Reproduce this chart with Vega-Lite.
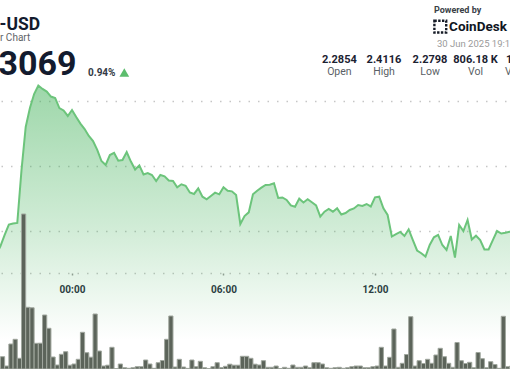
{
  "$schema": "https://vega.github.io/schema/vega-lite/v6.json",
  "width": 510,
  "height": 369,
  "padding": 0,
  "autosize": {"type": "none"},
  "background": "white",
  "config": {"view": {"stroke": null}, "font": "Roboto"},
  "datasets": {
    "xrp": [
      {"t": "2025-06-29T21:00Z", "p": 2.2819, "v": 4500},
      {"t": "2025-06-29T21:10Z", "p": 2.2887, "v": 6150},
      {"t": "2025-06-29T21:20Z", "p": 2.2972, "v": 1500},
      {"t": "2025-06-29T21:30Z", "p": 2.3052, "v": 12500},
      {"t": "2025-06-29T21:40Z", "p": 2.3060, "v": 14850},
      {"t": "2025-06-29T21:50Z", "p": 2.3064, "v": 5350},
      {"t": "2025-06-29T22:00Z", "p": 2.3469, "v": 77500},
      {"t": "2025-06-29T22:10Z", "p": 2.3799, "v": 30850},
      {"t": "2025-06-29T22:20Z", "p": 2.3944, "v": 30600},
      {"t": "2025-06-29T22:30Z", "p": 2.4051, "v": 12850},
      {"t": "2025-06-29T22:40Z", "p": 2.4116, "v": 12900},
      {"t": "2025-06-29T22:50Z", "p": 2.4090, "v": 27000},
      {"t": "2025-06-29T23:00Z", "p": 2.4070, "v": 20350},
      {"t": "2025-06-29T23:10Z", "p": 2.4032, "v": 6000},
      {"t": "2025-06-29T23:20Z", "p": 2.4021, "v": 2000},
      {"t": "2025-06-29T23:30Z", "p": 2.3944, "v": 7350},
      {"t": "2025-06-29T23:40Z", "p": 2.3925, "v": 8650},
      {"t": "2025-06-29T23:50Z", "p": 2.3883, "v": 1900},
      {"t": "2025-06-30T00:00Z", "p": 2.3929, "v": 2500},
      {"t": "2025-06-30T00:10Z", "p": 2.3875, "v": 4850},
      {"t": "2025-06-30T00:20Z", "p": 2.3825, "v": 18350},
      {"t": "2025-06-30T00:30Z", "p": 2.3783, "v": 8150},
      {"t": "2025-06-30T00:40Z", "p": 2.3730, "v": 5900},
      {"t": "2025-06-30T00:50Z", "p": 2.3691, "v": 27500},
      {"t": "2025-06-30T01:00Z", "p": 2.3623, "v": 9000},
      {"t": "2025-06-30T01:10Z", "p": 2.3538, "v": 1500},
      {"t": "2025-06-30T01:20Z", "p": 2.3508, "v": 1900},
      {"t": "2025-06-30T01:30Z", "p": 2.3584, "v": 10850},
      {"t": "2025-06-30T01:40Z", "p": 2.3600, "v": 250},
      {"t": "2025-06-30T01:50Z", "p": 2.3541, "v": 2500},
      {"t": "2025-06-30T02:00Z", "p": 2.3546, "v": 650},
      {"t": "2025-06-30T02:10Z", "p": 2.3607, "v": 350},
      {"t": "2025-06-30T02:20Z", "p": 2.3534, "v": 650},
      {"t": "2025-06-30T02:30Z", "p": 2.3473, "v": 1150},
      {"t": "2025-06-30T02:40Z", "p": 2.3505, "v": 1150},
      {"t": "2025-06-30T02:50Z", "p": 2.3435, "v": 4500},
      {"t": "2025-06-30T03:00Z", "p": 2.3446, "v": 2500},
      {"t": "2025-06-30T03:10Z", "p": 2.3431, "v": 350},
      {"t": "2025-06-30T03:20Z", "p": 2.3385, "v": 3150},
      {"t": "2025-06-30T03:30Z", "p": 2.3431, "v": 4250},
      {"t": "2025-06-30T03:40Z", "p": 2.3421, "v": 14850},
      {"t": "2025-06-30T03:50Z", "p": 2.3389, "v": 26500},
      {"t": "2025-06-30T04:00Z", "p": 2.3385, "v": 1000},
      {"t": "2025-06-30T04:10Z", "p": 2.3337, "v": 4850},
      {"t": "2025-06-30T04:20Z", "p": 2.3360, "v": 1000},
      {"t": "2025-06-30T04:30Z", "p": 2.3349, "v": 300},
      {"t": "2025-06-30T04:40Z", "p": 2.3297, "v": 4500},
      {"t": "2025-06-30T04:50Z", "p": 2.3286, "v": 1150},
      {"t": "2025-06-30T05:00Z", "p": 2.3329, "v": 3850},
      {"t": "2025-06-30T05:10Z", "p": 2.3265, "v": 650},
      {"t": "2025-06-30T05:20Z", "p": 2.3245, "v": 150},
      {"t": "2025-06-30T05:30Z", "p": 2.3270, "v": 1150},
      {"t": "2025-06-30T05:40Z", "p": 2.3296, "v": 3150},
      {"t": "2025-06-30T05:50Z", "p": 2.3283, "v": 750},
      {"t": "2025-06-30T06:00Z", "p": 2.3337, "v": 1350},
      {"t": "2025-06-30T06:10Z", "p": 2.3311, "v": 2400},
      {"t": "2025-06-30T06:20Z", "p": 2.3306, "v": 1900},
      {"t": "2025-06-30T06:30Z", "p": 2.3278, "v": 1900},
      {"t": "2025-06-30T06:40Z", "p": 2.3056, "v": 6350},
      {"t": "2025-06-30T06:50Z", "p": 2.3117, "v": 6350},
      {"t": "2025-06-30T07:00Z", "p": 2.3145, "v": 5350},
      {"t": "2025-06-30T07:10Z", "p": 2.3283, "v": 2400},
      {"t": "2025-06-30T07:20Z", "p": 2.3311, "v": 2000},
      {"t": "2025-06-30T07:30Z", "p": 2.3334, "v": 4150},
      {"t": "2025-06-30T07:40Z", "p": 2.3355, "v": 850},
      {"t": "2025-06-30T07:50Z", "p": 2.3357, "v": 850},
      {"t": "2025-06-30T08:00Z", "p": 2.3368, "v": 1500},
      {"t": "2025-06-30T08:10Z", "p": 2.3255, "v": 250},
      {"t": "2025-06-30T08:20Z", "p": 2.3259, "v": 850},
      {"t": "2025-06-30T08:30Z", "p": 2.3240, "v": 350},
      {"t": "2025-06-30T08:40Z", "p": 2.3198, "v": 2000},
      {"t": "2025-06-30T08:50Z", "p": 2.3188, "v": 850},
      {"t": "2025-06-30T09:00Z", "p": 2.3250, "v": 850},
      {"t": "2025-06-30T09:10Z", "p": 2.3221, "v": 1500},
      {"t": "2025-06-30T09:20Z", "p": 2.3245, "v": 650},
      {"t": "2025-06-30T09:30Z", "p": 2.3222, "v": 3150},
      {"t": "2025-06-30T09:40Z", "p": 2.3198, "v": 3150},
      {"t": "2025-06-30T09:50Z", "p": 2.3112, "v": 2500},
      {"t": "2025-06-30T10:00Z", "p": 2.3150, "v": 650},
      {"t": "2025-06-30T10:10Z", "p": 2.3171, "v": 350},
      {"t": "2025-06-30T10:20Z", "p": 2.3150, "v": 650},
      {"t": "2025-06-30T10:30Z", "p": 2.3176, "v": 850},
      {"t": "2025-06-30T10:40Z", "p": 2.3129, "v": 350},
      {"t": "2025-06-30T10:50Z", "p": 2.3140, "v": 650},
      {"t": "2025-06-30T11:00Z", "p": 2.3163, "v": 1150},
      {"t": "2025-06-30T11:10Z", "p": 2.3175, "v": 1500},
      {"t": "2025-06-30T11:20Z", "p": 2.3201, "v": 1500},
      {"t": "2025-06-30T11:30Z", "p": 2.3194, "v": 650},
      {"t": "2025-06-30T11:40Z", "p": 2.3209, "v": 650},
      {"t": "2025-06-30T11:50Z", "p": 2.3190, "v": 1150},
      {"t": "2025-06-30T12:00Z", "p": 2.3260, "v": 1500},
      {"t": "2025-06-30T12:10Z", "p": 2.3265, "v": 10850},
      {"t": "2025-06-30T12:20Z", "p": 2.3176, "v": 1500},
      {"t": "2025-06-30T12:30Z", "p": 2.3125, "v": 5850},
      {"t": "2025-06-30T12:40Z", "p": 2.2960, "v": 20000},
      {"t": "2025-06-30T12:50Z", "p": 2.2979, "v": 850},
      {"t": "2025-06-30T13:00Z", "p": 2.2995, "v": 2850},
      {"t": "2025-06-30T13:10Z", "p": 2.2964, "v": 7250},
      {"t": "2025-06-30T13:20Z", "p": 2.3015, "v": 26150},
      {"t": "2025-06-30T13:30Z", "p": 2.2933, "v": 1500},
      {"t": "2025-06-30T13:40Z", "p": 2.2853, "v": 4150},
      {"t": "2025-06-30T13:50Z", "p": 2.2832, "v": 2750},
      {"t": "2025-06-30T14:00Z", "p": 2.2806, "v": 4850},
      {"t": "2025-06-30T14:10Z", "p": 2.2895, "v": 2850},
      {"t": "2025-06-30T14:20Z", "p": 2.2954, "v": 7000},
      {"t": "2025-06-30T14:30Z", "p": 2.2972, "v": 10350},
      {"t": "2025-06-30T14:40Z", "p": 2.2895, "v": 6150},
      {"t": "2025-06-30T14:50Z", "p": 2.2857, "v": 2850},
      {"t": "2025-06-30T15:00Z", "p": 2.2964, "v": 850},
      {"t": "2025-06-30T15:10Z", "p": 2.2798, "v": 13250},
      {"t": "2025-06-30T15:20Z", "p": 2.3048, "v": 4150},
      {"t": "2025-06-30T15:30Z", "p": 2.3002, "v": 2750},
      {"t": "2025-06-30T15:40Z", "p": 2.3087, "v": 3350},
      {"t": "2025-06-30T15:50Z", "p": 2.2937, "v": 650},
      {"t": "2025-06-30T16:00Z", "p": 2.2966, "v": 8250},
      {"t": "2025-06-30T16:10Z", "p": 2.2933, "v": 5150},
      {"t": "2025-06-30T16:20Z", "p": 2.2861, "v": 650},
      {"t": "2025-06-30T16:30Z", "p": 2.2861, "v": 3650},
      {"t": "2025-06-30T16:40Z", "p": 2.2933, "v": 2250},
      {"t": "2025-06-30T16:50Z", "p": 2.3002, "v": 350},
      {"t": "2025-06-30T17:00Z", "p": 2.2983, "v": 26350},
      {"t": "2025-06-30T17:10Z", "p": 2.2989, "v": 1150},
      {"t": "2025-06-30T17:20Z", "p": 2.2997, "v": 1500},
      {"t": "2025-06-30T17:30Z", "p": 2.3002, "v": 3000}
    ]
  },
  "layer": [
    {
      "data": {"name": "xrp"},
      "layer": [
        {
          "mark": {
            "type": "area",
            "clip": true,
            "color": {
              "gradient": "linear",
              "x1": 0, "y1": 0, "x2": 0, "y2": 1,
              "stops": [
                {"offset": 0, "color": "rgba(61,175,85,0.5)"},
                {"offset": 0.55, "color": "rgba(61,175,85,0.245)"},
                {"offset": 1, "color": "rgba(61,175,85,0)"}
              ]
            }
          },
          "encoding": {
            "x": {
              "field": "t",
              "type": "temporal",
              "scale": {
                "type": "utc",
                "padding": 0,
                "domain": [
                  {"year": 2025, "month": 6, "date": 29, "hours": 21, "minutes": 8, "seconds": 55, "utc": true},
                  {"year": 2025, "month": 6, "date": 30, "hours": 17, "minutes": 20, "seconds": 48, "utc": true}
                ]
              },
              "axis": {
                "title": null,
                "values": [
                  {"year": 2025, "month": 6, "date": 30, "hours": 0, "minutes": 0, "utc": true},
                  {"year": 2025, "month": 6, "date": 30, "hours": 6, "minutes": 0, "utc": true},
                  {"year": 2025, "month": 6, "date": 30, "hours": 12, "minutes": 0, "utc": true}
                ],
                "format": "%H:%M",
                "offset": -96,
                "grid": false,
                "domainDash": [1.5, 8],
                "domainDashOffset": -1,
                "domainColor": "#c6c6c6",
                "domainWidth": 1.5,
                "tickColor": "#9a9a9a",
                "tickSize": 2,
                "tickWidth": 1.5,
                "labelFont": "Roboto",
                "labelFontWeight": "bold",
                "labelFontSize": 10,
                "labelColor": "#2a3140",
                "labelPadding": 9,
                "labelFlush": false,
                "labelOverlap": false
              }
            },
            "y": {
              "field": "p",
              "type": "quantitative",
              "scale": {"domain": [2.19456, 2.47711], "nice": false, "zero": false},
              "axis": {
                "title": null,
                "values": [2.30, 2.35, 2.40],
                "grid": true,
                "gridDash": [1.5, 8],
                "gridDashOffset": -1,
                "gridColor": "#c6c6c6",
                "gridWidth": 1.5,
                "labels": false,
                "ticks": false,
                "domain": false
              }
            },
            "y2": {"datum": 2.2168}
          }
        },
        {
          "mark": {"type": "line", "clip": true, "color": "#6cc47b", "strokeWidth": 2},
          "encoding": {
            "x": {"field": "t", "type": "temporal"},
            "y": {"field": "p", "type": "quantitative"}
          }
        },
        {
          "data": {"values": [{"label": "-USD"}]},
          "mark": {"type": "text", "align": "left", "baseline": "alphabetic", "font": "Roboto", "fontSize": 17.5, "fontWeight": "bold", "color": "#131b2e"},
          "encoding": {
            "x": {"datum": {"year": 2025, "month": 6, "date": 29, "hours": 21, "minutes": 7, "seconds": 43, "utc": true}, "type": "temporal"},
            "y": {"datum": 2.4545, "type": "quantitative"},
            "text": {"field": "label"}
          }
        },
        {
          "data": {"values": [{"label": "r Chart"}]},
          "mark": {"type": "text", "align": "left", "baseline": "alphabetic", "font": "Roboto", "fontSize": 10, "color": "#5f6368"},
          "encoding": {
            "x": {"datum": {"year": 2025, "month": 6, "date": 29, "hours": 21, "minutes": 8, "seconds": 55, "utc": true}, "type": "temporal"},
            "y": {"datum": 2.4455, "type": "quantitative"},
            "text": {"field": "label"}
          }
        },
        {
          "data": {"values": [{"label": "3069"}]},
          "mark": {"type": "text", "align": "left", "baseline": "alphabetic", "font": "Roboto", "fontSize": 34, "fontWeight": "bold", "color": "#131b2e"},
          "encoding": {
            "x": {"datum": {"year": 2025, "month": 6, "date": 29, "hours": 21, "minutes": 5, "seconds": 21, "utc": true}, "type": "temporal"},
            "y": {"datum": 2.4197, "type": "quantitative"},
            "text": {"field": "label"}
          }
        },
        {
          "data": {"values": [{"label": "0.94%"}]},
          "mark": {"type": "text", "align": "left", "baseline": "alphabetic", "font": "Roboto", "fontSize": 10, "fontWeight": "bold", "color": "#333a45"},
          "encoding": {
            "x": {"datum": {"year": 2025, "month": 6, "date": 30, "hours": 0, "minutes": 38, "seconds": 1, "utc": true}, "type": "temporal"},
            "y": {"datum": 2.4189, "type": "quantitative"},
            "text": {"field": "label"}
          }
        },
        {
          "data": {"values": [{"label": "up"}]},
          "mark": {"type": "point", "shape": "triangle-up", "filled": true, "color": "#5cbd6d", "size": 95, "opacity": 1},
          "encoding": {
            "x": {"datum": {"year": 2025, "month": 6, "date": 30, "hours": 2, "minutes": 4, "seconds": 17, "utc": true}, "type": "temporal"},
            "y": {"datum": 2.4216, "type": "quantitative"}
          }
        },
        {
          "data": {"values": [{"label": "Powered by"}]},
          "mark": {"type": "text", "align": "left", "baseline": "alphabetic", "font": "Roboto", "fontSize": 9, "fontWeight": "bold", "color": "#3a3f47"},
          "encoding": {
            "x": {"datum": {"year": 2025, "month": 6, "date": 30, "hours": 14, "minutes": 20, "seconds": 12, "utc": true}, "type": "temporal"},
            "y": {"datum": 2.4675, "type": "quantitative"},
            "text": {"field": "label"}
          }
        },
        {
          "data": {"values": [{"label": "logo"}]},
          "mark": {"type": "point", "shape": "square", "filled": false, "color": "#161b26", "strokeWidth": 2.4, "strokeDash": [2.4, 1.4], "size": 140, "opacity": 1},
          "encoding": {
            "x": {"datum": {"year": 2025, "month": 6, "date": 30, "hours": 14, "minutes": 35, "seconds": 10, "utc": true}, "type": "temporal"},
            "y": {"datum": 2.4567, "type": "quantitative"}
          }
        },
        {
          "data": {"values": [{"label": "CoinDesk"}]},
          "mark": {"type": "text", "align": "left", "baseline": "alphabetic", "font": "Roboto", "fontSize": 13.5, "fontWeight": "bold", "color": "#0f1522"},
          "encoding": {
            "x": {"datum": {"year": 2025, "month": 6, "date": 30, "hours": 14, "minutes": 56, "seconds": 0, "utc": true}, "type": "temporal"},
            "y": {"datum": 2.4530, "type": "quantitative"},
            "text": {"field": "label"}
          }
        },
        {
          "data": {"values": [{"label": "30 Jun 2025 19:15"}]},
          "mark": {"type": "text", "align": "left", "baseline": "alphabetic", "font": "Roboto", "fontSize": 9.5, "color": "#9a9a9a"},
          "encoding": {
            "x": {"datum": {"year": 2025, "month": 6, "date": 30, "hours": 14, "minutes": 27, "seconds": 20, "utc": true}, "type": "temporal"},
            "y": {"datum": 2.4411, "type": "quantitative"},
            "text": {"field": "label"}
          }
        },
        {
          "data": {"values": [{"label": "2.2854"}]},
          "mark": {"type": "text", "align": "center", "baseline": "alphabetic", "font": "Roboto", "fontSize": 11, "fontWeight": "bold", "color": "#1b2231"},
          "encoding": {
            "x": {"datum": {"year": 2025, "month": 6, "date": 30, "hours": 10, "minutes": 35, "seconds": 24, "utc": true}, "type": "temporal"},
            "y": {"datum": 2.42925, "type": "quantitative"},
            "text": {"field": "label"}
          }
        },
        {
          "data": {"values": [{"label": "2.4116"}]},
          "mark": {"type": "text", "align": "center", "baseline": "alphabetic", "font": "Roboto", "fontSize": 11, "fontWeight": "bold", "color": "#1b2231"},
          "encoding": {
            "x": {"datum": {"year": 2025, "month": 6, "date": 30, "hours": 12, "minutes": 21, "seconds": 23, "utc": true}, "type": "temporal"},
            "y": {"datum": 2.42925, "type": "quantitative"},
            "text": {"field": "label"}
          }
        },
        {
          "data": {"values": [{"label": "2.2798"}]},
          "mark": {"type": "text", "align": "center", "baseline": "alphabetic", "font": "Roboto", "fontSize": 11, "fontWeight": "bold", "color": "#1b2231"},
          "encoding": {
            "x": {"datum": {"year": 2025, "month": 6, "date": 30, "hours": 14, "minutes": 10, "seconds": 42, "utc": true}, "type": "temporal"},
            "y": {"datum": 2.42925, "type": "quantitative"},
            "text": {"field": "label"}
          }
        },
        {
          "data": {"values": [{"label": "806.18 K"}]},
          "mark": {"type": "text", "align": "center", "baseline": "alphabetic", "font": "Roboto", "fontSize": 11, "fontWeight": "bold", "color": "#1b2231"},
          "encoding": {
            "x": {"datum": {"year": 2025, "month": 6, "date": 30, "hours": 15, "minutes": 58, "seconds": 49, "utc": true}, "type": "temporal"},
            "y": {"datum": 2.42925, "type": "quantitative"},
            "text": {"field": "label"}
          }
        },
        {
          "data": {"values": [{"label": "1"}]},
          "mark": {"type": "text", "align": "left", "baseline": "alphabetic", "font": "Roboto", "fontSize": 11, "fontWeight": "bold", "color": "#1b2231"},
          "encoding": {
            "x": {"datum": {"year": 2025, "month": 6, "date": 30, "hours": 17, "minutes": 11, "seconds": 17, "utc": true}, "type": "temporal"},
            "y": {"datum": 2.42925, "type": "quantitative"},
            "text": {"field": "label"}
          }
        },
        {
          "data": {"values": [{"label": "Open"}]},
          "mark": {"type": "text", "align": "center", "baseline": "alphabetic", "font": "Roboto", "fontSize": 10.5, "color": "#5a5f66"},
          "encoding": {
            "x": {"datum": {"year": 2025, "month": 6, "date": 30, "hours": 10, "minutes": 35, "seconds": 24, "utc": true}, "type": "temporal"},
            "y": {"datum": 2.42006, "type": "quantitative"},
            "text": {"field": "label"}
          }
        },
        {
          "data": {"values": [{"label": "High"}]},
          "mark": {"type": "text", "align": "center", "baseline": "alphabetic", "font": "Roboto", "fontSize": 10.5, "color": "#5a5f66"},
          "encoding": {
            "x": {"datum": {"year": 2025, "month": 6, "date": 30, "hours": 12, "minutes": 21, "seconds": 23, "utc": true}, "type": "temporal"},
            "y": {"datum": 2.42006, "type": "quantitative"},
            "text": {"field": "label"}
          }
        },
        {
          "data": {"values": [{"label": "Low"}]},
          "mark": {"type": "text", "align": "center", "baseline": "alphabetic", "font": "Roboto", "fontSize": 10.5, "color": "#5a5f66"},
          "encoding": {
            "x": {"datum": {"year": 2025, "month": 6, "date": 30, "hours": 14, "minutes": 10, "seconds": 42, "utc": true}, "type": "temporal"},
            "y": {"datum": 2.42006, "type": "quantitative"},
            "text": {"field": "label"}
          }
        },
        {
          "data": {"values": [{"label": "Vol"}]},
          "mark": {"type": "text", "align": "center", "baseline": "alphabetic", "font": "Roboto", "fontSize": 10.5, "color": "#5a5f66"},
          "encoding": {
            "x": {"datum": {"year": 2025, "month": 6, "date": 30, "hours": 15, "minutes": 58, "seconds": 49, "utc": true}, "type": "temporal"},
            "y": {"datum": 2.42006, "type": "quantitative"},
            "text": {"field": "label"}
          }
        },
        {
          "data": {"values": [{"label": "V"}]},
          "mark": {"type": "text", "align": "left", "baseline": "alphabetic", "font": "Roboto", "fontSize": 10.5, "color": "#5a5f66"},
          "encoding": {
            "x": {"datum": {"year": 2025, "month": 6, "date": 30, "hours": 17, "minutes": 8, "seconds": 55, "utc": true}, "type": "temporal"},
            "y": {"datum": 2.42006, "type": "quantitative"},
            "text": {"field": "label"}
          }
        }
      ]
    },
    {
      "data": {"name": "xrp"},
      "mark": {"type": "bar", "clip": true, "width": 4.2, "xOffset": 2.1, "color": "#5c645a", "stroke": "#a0a79e", "strokeWidth": 1},
      "encoding": {
        "x": {"field": "t", "type": "temporal"},
        "y": {"field": "v", "type": "quantitative", "scale": {"domain": [0, 184500], "nice": false}, "axis": null}
      }
    }
  ],
  "resolve": {"scale": {"y": "independent"}, "axis": {"y": "independent"}}
}
